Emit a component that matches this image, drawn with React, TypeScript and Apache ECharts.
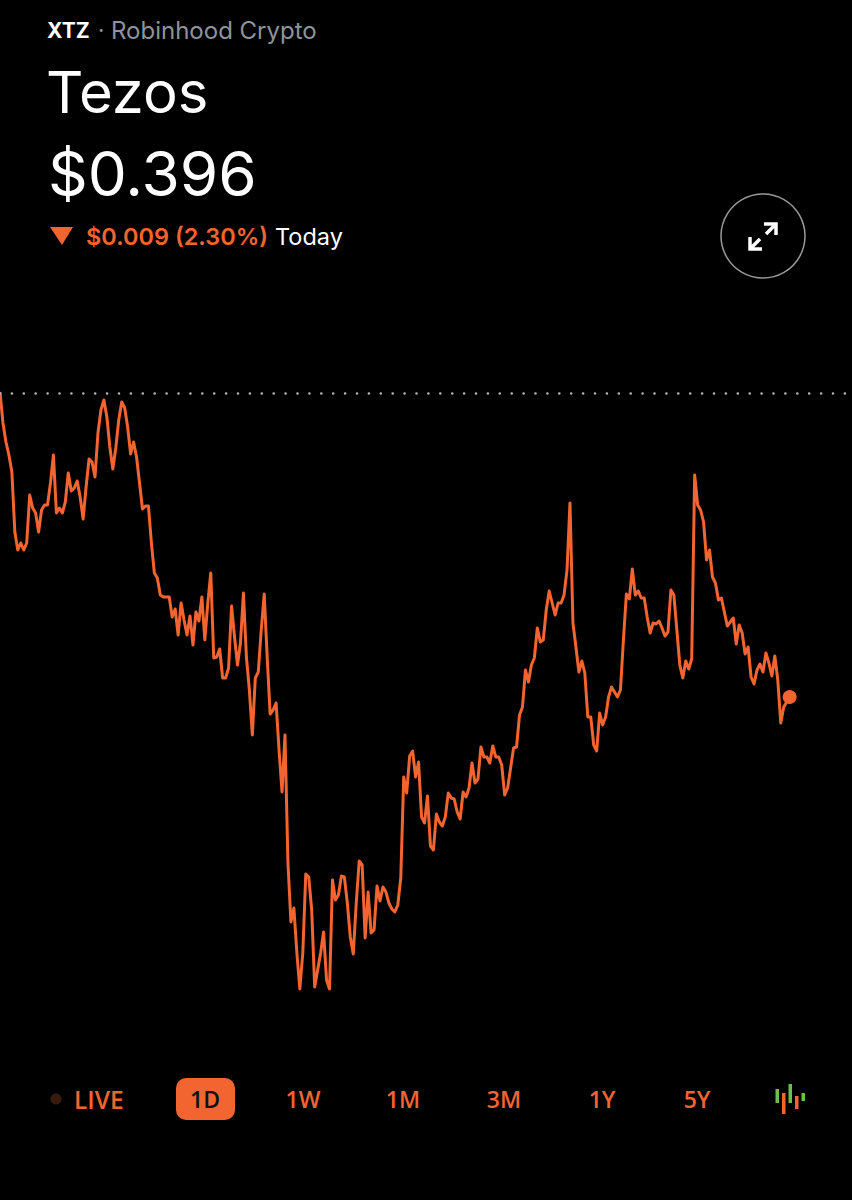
import React, { useEffect, useRef } from "react";
import * as echarts from "echarts";

const ORANGE = "#f26430";
const prevClose = 0.405;
const rangeLabels = ["1W", "1M", "3M", "1Y", "5Y"];
const rangeCenters = [303, 403, 504, 602, 697];
const pointsPerDay = 288;

const prices = [
  0.40503, 0.4041, 0.40353, 0.40314, 0.40263, 0.40083, 0.40029, 0.4005, 0.40029, 0.4005,
  0.40194, 0.40155, 0.4014, 0.40083, 0.40149, 0.40164, 0.40164, 0.4023, 0.40314, 0.4014,
  0.40155, 0.4014, 0.40173, 0.4026, 0.40206, 0.40215, 0.40236, 0.40188, 0.40122, 0.40218,
  0.40302, 0.40293, 0.40248, 0.4038, 0.40449, 0.40479, 0.40428, 0.40338, 0.40272, 0.40335,
  0.40419, 0.40473, 0.40455, 0.40398, 0.40317, 0.40353, 0.40308, 0.4023, 0.40152, 0.40161,
  0.40161, 0.4005, 0.3996, 0.39945, 0.39894, 0.39888, 0.39888, 0.39888, 0.39828, 0.39852,
  0.39774, 0.3987, 0.39819, 0.39774, 0.39831, 0.39744, 0.39843, 0.39816, 0.39888, 0.39759,
  0.3987, 0.3996, 0.39705, 0.39708, 0.39732, 0.39645, 0.39645, 0.39675, 0.39861, 0.39768,
  0.39684, 0.3975, 0.399, 0.39708, 0.39609, 0.39474, 0.39645, 0.39663, 0.39789, 0.39897,
  0.39708, 0.39537, 0.39549, 0.3957, 0.39429, 0.39303, 0.39474, 0.3909, 0.38913, 0.38955,
  0.3882, 0.38712, 0.3882, 0.39057, 0.39048, 0.38949, 0.38718, 0.38769, 0.3882, 0.38883,
  0.38739, 0.38712, 0.39039, 0.38979, 0.38994, 0.39051, 0.39048, 0.3897, 0.38868, 0.38817,
  0.3897, 0.39096, 0.39084, 0.38865, 0.39003, 0.3888, 0.38889, 0.39021, 0.38976, 0.39018,
  0.39003, 0.3897, 0.38952, 0.38943, 0.38964, 0.39045, 0.39348, 0.393, 0.39411, 0.39426,
  0.39348, 0.39393, 0.39228, 0.3921, 0.39291, 0.39141, 0.39129, 0.39237, 0.39213, 0.39201,
  0.39228, 0.393, 0.39285, 0.39282, 0.39243, 0.39222, 0.39303, 0.39288, 0.39315, 0.3939,
  0.3933, 0.39342, 0.39438, 0.39408, 0.39408, 0.3939, 0.39441, 0.39408, 0.39408, 0.39384,
  0.39294, 0.39315, 0.39375, 0.39435, 0.39438, 0.39534, 0.39558, 0.39669, 0.39633, 0.39684,
  0.39705, 0.39795, 0.39753, 0.39759, 0.39849, 0.39906, 0.3987, 0.39834, 0.3987, 0.3987,
  0.39894, 0.39969, 0.4017, 0.3981, 0.39738, 0.39663, 0.39696, 0.3966, 0.39528, 0.39528,
  0.39444, 0.39426, 0.3954, 0.39504, 0.39528, 0.39588, 0.39618, 0.39603, 0.39588, 0.39609,
  0.39759, 0.39897, 0.39882, 0.39972, 0.39894, 0.39906, 0.39885, 0.39885, 0.39828, 0.3978,
  0.3981, 0.39807, 0.39816, 0.39795, 0.39771, 0.39783, 0.39909, 0.39894, 0.39789, 0.39684,
  0.39645, 0.39696, 0.39672, 0.39702, 0.40254, 0.40164, 0.40149, 0.40113, 0.39999, 0.40029,
  0.39948, 0.3993, 0.39879, 0.39885, 0.39843, 0.39801, 0.39813, 0.39825, 0.39747, 0.39804,
  0.3978, 0.39717, 0.39738, 0.39648, 0.39627, 0.39669, 0.39687, 0.39663, 0.3972, 0.3969,
  0.39651, 0.39711, 0.39639, 0.3951, 0.39558, 0.39573, 0.39588,
];

const categories = Array.from({ length: pointsPerDay }, (_, i) => String(i * 5));

const textEl = (
  text: string, x: number, y: number, size: number, fill: string,
  family: string, weight: number | string = 400, align = "left",
) => ({
  type: "text", x, y,
  style: { text, fill, align, verticalAlign: "middle", font: `${weight} ${size}px ${family}` },
});

const UI = "Inter, sans-serif";
const BTN = '"Open Sans", sans-serif';

export default function App() {
  const ref = useRef<HTMLDivElement>(null);
  useEffect(() => {
    document.body.style.margin = "0";
    document.body.style.background = "#000";
    const chart = echarts.init(ref.current!, null, { renderer: "svg" });
    const lastIndex = prices.length - 1;
    chart.setOption({
      animation: false,
      backgroundColor: "#000",
      grid: { left: 0, right: 0, top: 0, bottom: 0 },
      xAxis: { type: "category", data: categories, boundaryGap: false, show: false },
      yAxis: { type: "value", min: 0.38079, max: 0.41679, show: false },
      series: [
        {
          type: "line",
          data: prices,
          showSymbol: false,
          lineStyle: { color: ORANGE, width: 3, join: "round" },
          markLine: {
            silent: true,
            symbol: "none",
            precision: 5,
            label: { show: false },
            lineStyle: { color: "#b4b4b4", width: 2.6, type: [0.01, 11.89], cap: "round" },
            data: [{ yAxis: prevClose }],
          },
          markPoint: {
            silent: true,
            symbol: "circle",
            symbolSize: 14,
            label: { show: false },
            itemStyle: { color: ORANGE },
            data: [{ coord: [categories[lastIndex], prices[lastIndex]] }],
          },
        },
      ],
      graphic: [
        textEl("XTZ", 47, 30, 21, "#ffffff", UI, 700),
        textEl("·", 98, 30, 22, "#8d949b", UI),
        textEl("Robinhood Crypto", 111, 30, 24, "#8d949b", UI),
        textEl("Tezos", 46, 92, 58, "#ffffff", UI),
        textEl("$0.396", 48, 173, 62, "#ffffff", UI),
        { type: "polygon", shape: { points: [[50, 227], [73, 227], [62, 245]] }, style: { fill: ORANGE } },
        textEl("$0.009 (2.30%)", 86, 236, 23.5, ORANGE, UI, 600),
        textEl("Today", 275, 236, 23.5, "#ffffff", UI),
        { type: "circle", shape: { cx: 763, cy: 236, r: 42 }, style: { fill: "none", stroke: "#9a9a9a", lineWidth: 1.5 } },
        { type: "polyline", shape: { points: [[764, 224], [776, 224], [776, 235]] }, style: { fill: "none", stroke: "#fff", lineWidth: 3.5 } },
        { type: "line", shape: { x1: 775, y1: 225, x2: 766, y2: 234 }, style: { stroke: "#fff", lineWidth: 3.5 } },
        { type: "polyline", shape: { points: [[750, 237], [750, 249], [762, 249]] }, style: { fill: "none", stroke: "#fff", lineWidth: 3.5 } },
        { type: "line", shape: { x1: 751, y1: 248, x2: 760, y2: 239 }, style: { stroke: "#fff", lineWidth: 3.5 } },
        { type: "circle", shape: { cx: 56, cy: 1099, r: 5.5 }, style: { fill: "#3a1a0e" } },
        textEl("LIVE", 74, 1099, 24.5, ORANGE, BTN, 600),
        { type: "rect", shape: { x: 176, y: 1078, width: 59, height: 42, r: 10 }, style: { fill: ORANGE } },
        textEl("1D", 205, 1099, 23, "#111", BTN, 600, "center"),
        ...rangeLabels.map((t, i) => textEl(t, rangeCenters[i], 1099, 23, ORANGE, BTN, 600, "center")),
        { type: "rect", shape: { x: 775.5, y: 1089, width: 3.5, height: 14 }, style: { fill: "#6cc04a" } },
        { type: "rect", shape: { x: 782, y: 1093, width: 3.5, height: 21 }, style: { fill: ORANGE } },
        { type: "rect", shape: { x: 788.5, y: 1084, width: 3.5, height: 19 }, style: { fill: "#6cc04a" } },
        { type: "rect", shape: { x: 795, y: 1096, width: 3.5, height: 13 }, style: { fill: ORANGE } },
        { type: "rect", shape: { x: 801.5, y: 1093, width: 3.5, height: 8 }, style: { fill: "#6cc04a" } },
      ],
    });
    return () => chart.dispose();
  }, []);
  return <div ref={ref} style={{ width: 852, height: 1200, background: "#000" }} />;
}
